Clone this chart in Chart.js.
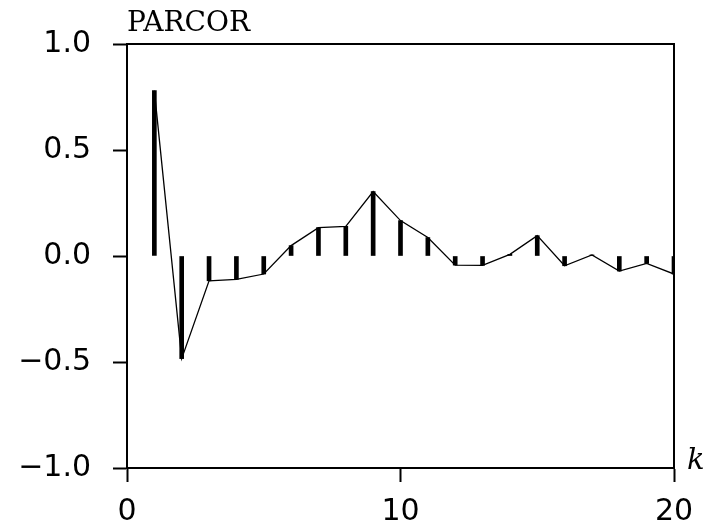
<!DOCTYPE html>
<html>
<head>
<meta charset="utf-8">
<script src="https://cdn.jsdelivr.net/npm/chart.js@4"></script>
<style>
  body { margin: 0; background: #fff; }
  #wrap { position: relative; width: 709px; height: 525px; }
</style>
</head>
<body>
<div id="wrap"><canvas id="parcor"></canvas></div>
<script>
const lags = [1, 2, 3, 4, 5, 6, 7, 8, 9, 10, 11, 12, 13, 14, 15, 16, 17, 18, 19, 20];
const parcor = [0.78, -0.484, -0.117, -0.11, -0.085, 0.049, 0.134, 0.14, 0.304, 0.167,
  0.087, -0.043, -0.044, 0.008, 0.096, -0.046, 0.005, -0.071, -0.035, -0.085];
const yTicks = [-1.0, -0.5, 0.0, 0.5, 1.0];
const xTicks = [0, 10, 20];

const points = lags.map((k, i) => ({ x: k, y: parcor[i] }));

// box round the plot area + axis names
const framePlugin = {
  id: "frame",
  afterDraw(chart) {
    const { ctx, chartArea: a } = chart;
    ctx.save();
    ctx.strokeStyle = "#000";
    ctx.lineWidth = 2;
    ctx.beginPath();
    ctx.moveTo(a.left, a.top);
    ctx.lineTo(a.right, a.top);
    ctx.lineTo(a.right, a.bottom);
    ctx.stroke();
    ctx.fillStyle = "#000";
    ctx.textBaseline = "alphabetic";
    ctx.textAlign = "left";
    ctx.font = "28px 'DejaVu Serif'";
    ctx.fillText("PARCOR", a.left, a.top - 13);
    ctx.font = "italic 29px 'DejaVu Serif'";
    ctx.fillText("k", a.right + 13, a.bottom + 1);
    ctx.restore();
  }
};

new Chart(document.getElementById("parcor"), {
  data: {
    datasets: [
      {
        type: "line",
        data: points,
        borderColor: "#000",
        borderWidth: 1.3,
        pointRadius: 0,
        tension: 0,
        order: 1
      },
      {
        type: "bar",
        data: points,
        backgroundColor: "#000",
        borderWidth: 0,
        barThickness: 4,
        order: 2
      }
    ]
  },
  options: {
    responsive: true,
    maintainAspectRatio: false,
    animation: false,
    layout: { padding: { top: 44, right: 35, left: 0, bottom: 0 } },
    plugins: { legend: { display: false }, tooltip: { enabled: false } },
    scales: {
      x: {
        type: "linear",
        min: 0,
        max: 20,
        offset: false,
        afterBuildTicks: (s) => { s.ticks = xTicks.map(v => ({ value: v })); },
        afterFit: (s) => { s.height = 57; },
        grid: { offset: false, drawOnChartArea: false, tickLength: 14, tickWidth: 2, color: "#000" },
        border: { display: true, width: 2, color: "#000" },
        ticks: { color: "#000", font: { family: "'DejaVu Sans'", size: 30 }, padding: 12, maxRotation: 0 }
      },
      y: {
        type: "linear",
        min: -1,
        max: 1,
        afterBuildTicks: (s) => { s.ticks = yTicks.map(v => ({ value: v })); },
        afterFit: (s) => { s.width = 127; },
        grid: { drawOnChartArea: false, tickLength: 14, tickWidth: 2, color: "#000" },
        border: { display: true, width: 2, color: "#000" },
        ticks: {
          color: "#000",
          font: { family: "'DejaVu Sans'", size: 30 },
          padding: 22,
          callback: (v) => (v < 0 ? "\u2212" : "") + Math.abs(v).toFixed(1)
        }
      }
    }
  },
  plugins: [framePlugin]
});
</script>
</body>
</html>
